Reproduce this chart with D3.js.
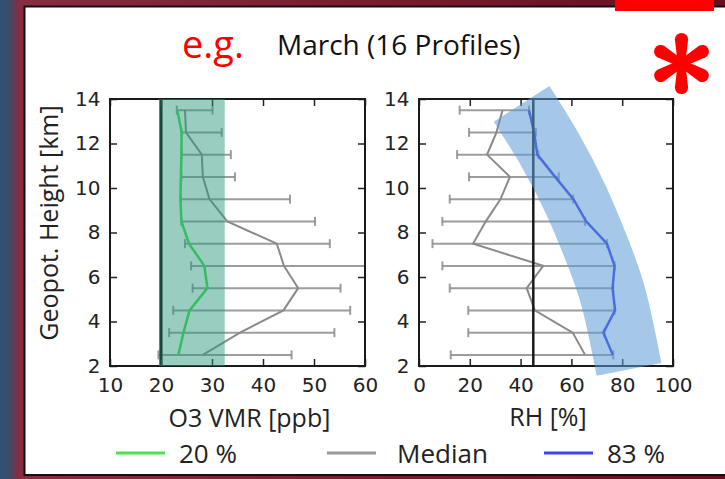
<!DOCTYPE html>
<html>
<head>
<meta charset="utf-8">
<script src="https://cdn.jsdelivr.net/npm/d3@7/dist/d3.min.js"></script>
<style>
  html, body { margin: 0; padding: 0; background: #fff; }
  svg { display: block; }
</style>
</head>
<body>
<svg id="chart" width="725" height="479"></svg>
<script>
// Heights of the profile levels [km]
const levels = [2.5, 3.5, 4.5, 5.5, 6.5, 7.5, 8.5, 9.5, 10.5, 11.5, 12.5, 13.5];

// Ozone volume mixing ratio [ppb]
const o3Low    = [19.5, 21.6, 22.4, 26.2, 25.9, 24.7, 24.0, 23.9, 24.0, 24.0, 24.0, 23.1];
const o3High   = [45.6, 54.0, 57.1, 55.2, 60.0, 53.1, 50.2, 45.3, 34.5, 33.7, 31.9, 30.1];
const o3Median = [28.2, 35.5, 44.0, 46.9, 44.1, 42.7, 33.0, 29.5, 28.2, 28.0, 24.9, 24.7];
const o3P20    = [23.4, 24.4, 25.6, 29.1, 28.5, 25.5, 24.0, 23.8, 23.9, 24.0, 24.05, 23.2];

// Relative humidity [%]
const rhLow    = [12.5, 19.4, 19.4, 12.1, 9.2, 5.3, 9.2, 12.1, 19.7, 15.0, 19.7, 16.0];
const rhHigh   = [76.5, 73.0, 77.0, 76.5, 77.0, 74.0, 65.4, 60.7, 55.0, 47.0, 46.0, 43.3];
const rhMedian = [65.4, 60.5, 45.6, 42.4, 48.9, 21.3, 26.3, 32.1, 35.8, 26.8, 30.5, 32.9];
const rhP83    = [76.3, 72.6, 77.2, 76.2, 77.0, 74.0, 65.8, 60.8, 53.6, 46.6, 45.3, 43.3];

// Reference values and highlighted ranges
const o3Threshold = 20;
const o3Range = [19.6, 32.5];
const rhThreshold = 45;
// centre line of the humid band (RH %, km)
const rhBandCentre = [[40.4, 13.78], [51.6, 11.71], [61.8, 9.46], [70.1, 7.21], [76.8, 4.97], [82.7, 1.85]];

// Axis ticks
const o3Ticks = [10, 20, 30, 40, 50, 60];
const rhTicks = [0, 20, 40, 60, 80, 100];
const heightTicks = [2, 4, 6, 8, 10, 12, 14];

// Text
const titleText = "March (16 Profiles)";
const exampleText = "e.g.";
const yLabel = "Geopot. Height [km]";
const o3Label = "O3 VMR [ppb]";
const rhLabel = "RH [%]";
const legendItems = [
  { label: "20 %", color: "#4fe04f" },
  { label: "Median", color: "#9a9a9a" },
  { label: "83 %", color: "#3f3ff5" }
];

const svg = d3.select("#chart");
const defs = svg.append("defs");

// slide background
const bg = defs.append("linearGradient").attr("id", "bgGrad");
bg.append("stop").attr("offset", "0%").attr("stop-color", "#2d5274");
bg.append("stop").attr("offset", "1.2%").attr("stop-color", "#3a4c6c");
bg.append("stop").attr("offset", "2.6%").attr("stop-color", "#872c41");
bg.append("stop").attr("offset", "50%").attr("stop-color", "#7a1c2e");
bg.append("stop").attr("offset", "100%").attr("stop-color", "#680e1e");
svg.append("rect").attr("width", 725).attr("height", 479).attr("fill", "url(#bgGrad)");
svg.append("rect").attr("x", 24.5).attr("y", 6.5).attr("width", 720).attr("height", 468.5)
  .attr("fill", "#fff").attr("stroke", "#111").attr("stroke-width", 2);

// red marker on top edge
svg.append("rect").attr("x", 615).attr("y", 0).attr("width", 99).attr("height", 11).attr("fill", "#ff0000");

// title
svg.append("text").attr("x", 182).attr("y", 58).attr("font-family", "Open Sans").attr("font-size", 38)
  .attr("fill", "#ff0000").text(exampleText);
svg.append("text").attr("x", 277).attr("y", 55).attr("font-family", "Open Sans").attr("font-size", 28)
  .attr("fill", "#111").text(titleText);

// red asterisk
const star = svg.append("g").attr("transform", "translate(681.5,63.5)");
for (let i = 0; i < 6; i++) {
  star.append("path")
    .attr("d", "M-3.8,0 L-6.6,-24 A6.6,6.6 0 0 1 6.6,-24 L3.8,0 Z")
    .attr("fill", "#ff0000")
    .attr("transform", `rotate(${i * 60})`);
}
star.append("circle").attr("r", 5.5).attr("fill", "#ff0000");

const y = d3.scaleLinear().domain([2, 14]).range([366, 99]);
const xO3 = d3.scaleLinear().domain([10, 60]).range([110, 365]);
const xRH = d3.scaleLinear().domain([0, 100]).range([419, 673]);

const tickFont = "DejaVu Sans";

function drawPanel(x, low, high, median, pct, pctColor) {
  const g = svg.append("g");
  // error bars
  const bars = g.append("g").attr("stroke", "#8c8c8c").attr("stroke-width", 2).attr("stroke-opacity", 0.85);
  levels.forEach((lv, i) => {
    bars.append("line").attr("x1", x(low[i])).attr("x2", x(high[i])).attr("y1", y(lv)).attr("y2", y(lv));
    bars.append("line").attr("x1", x(low[i])).attr("x2", x(low[i])).attr("y1", y(lv) - 4.5).attr("y2", y(lv) + 4.5);
    bars.append("line").attr("x1", x(high[i])).attr("x2", x(high[i])).attr("y1", y(lv) - 4.5).attr("y2", y(lv) + 4.5);
  });
  const line = (vals) => d3.line().x((d, i) => x(vals[i])).y(d => y(d))(levels);
  g.append("path").attr("d", line(median)).attr("fill", "none").attr("stroke", "#8a8a8a").attr("stroke-width", 2);
  g.append("path").attr("d", line(pct)).attr("fill", "none").attr("stroke", pctColor).attr("stroke-width", 2.5);
  return g;
}

function drawAxes(x, xTicks) {
  const [x0, x1] = x.range();
  const bottom = svg.append("g").attr("transform", `translate(0,366)`)
    .call(d3.axisBottom(x).tickValues(xTicks).tickFormat(d3.format("d")).tickSizeInner(-7).tickSizeOuter(0).tickPadding(12));
  const top = svg.append("g").attr("transform", `translate(0,99)`)
    .call(d3.axisTop(x).tickValues(xTicks).tickFormat("").tickSizeInner(-7).tickSizeOuter(0));
  const left = svg.append("g").attr("transform", `translate(${x0},0)`)
    .call(d3.axisLeft(y).tickValues(heightTicks).tickFormat(d3.format("d")).tickSizeInner(-7).tickSizeOuter(0).tickPadding(9.5));
  const right = svg.append("g").attr("transform", `translate(${x1},0)`)
    .call(d3.axisRight(y).tickValues(heightTicks).tickFormat("").tickSizeInner(-7).tickSizeOuter(0));
  [bottom, top, left, right].forEach(a => {
    a.select(".domain").remove();
    a.selectAll(".tick line").attr("stroke", "#222").attr("stroke-width", 1.5);
    a.selectAll(".tick text").attr("font-family", tickFont).attr("font-size", 20).attr("fill", "#222");
  });
  svg.append("rect").attr("x", x0).attr("y", 99).attr("width", x1 - x0).attr("height", 267)
    .attr("fill", "none").attr("stroke", "#1a1a1a").attr("stroke-width", 2);
}

// ozone panel
drawPanel(xO3, o3Low, o3High, o3Median, o3P20, "#40e050");
svg.append("line").attr("x1", xO3(o3Threshold)).attr("x2", xO3(o3Threshold)).attr("y1", y(14)).attr("y2", y(2))
  .attr("stroke", "#000").attr("stroke-width", 3);
drawAxes(xO3, o3Ticks);
svg.append("rect").attr("x", xO3(o3Range[0])).attr("y", y(14))
  .attr("width", xO3(o3Range[1]) - xO3(o3Range[0])).attr("height", y(2) - y(14))
  .attr("fill", "#27977b").attr("fill-opacity", 0.48);

// humidity panel
drawPanel(xRH, rhLow, rhHigh, rhMedian, rhP83, "#3535ee");
svg.append("line").attr("x1", xRH(rhThreshold)).attr("x2", xRH(rhThreshold)).attr("y1", y(14)).attr("y2", y(2))
  .attr("stroke", "#1a1a1a").attr("stroke-width", 2.5);
drawAxes(xRH, rhTicks);
svg.append("path")
  .attr("d", d3.line().x(d => xRH(d[0])).y(d => y(d[1])).curve(d3.curveNatural)(rhBandCentre))
  .attr("fill", "none").attr("stroke", "#5b9bd5").attr("stroke-opacity", 0.55)
  .attr("stroke-width", 66).attr("stroke-linecap", "butt");

// axis titles
svg.append("text").attr("transform", "translate(58,223) rotate(-90)").attr("text-anchor", "middle")
  .attr("font-family", "Open Sans").attr("font-size", 25).attr("fill", "#222").text(yLabel);
svg.append("text").attr("x", 249.5).attr("y", 427).attr("text-anchor", "middle")
  .attr("font-family", "Open Sans").attr("font-size", 25).attr("fill", "#222").text(o3Label);
svg.append("text").attr("x", 548).attr("y", 426).attr("text-anchor", "middle")
  .attr("font-family", "Open Sans").attr("font-size", 25).attr("fill", "#222").text(rhLabel);

// legend
const legendX = [116, 327, 544];
legendItems.forEach((item, i) => {
  const lx = legendX[i];
  svg.append("line").attr("x1", lx).attr("x2", lx + 49).attr("y1", 453).attr("y2", 453)
    .attr("stroke", item.color).attr("stroke-width", 3);
  svg.append("text").attr("x", lx + 63 + (i === 1 ? 7 : 0)).attr("y", 463)
    .attr("font-family", "Open Sans").attr("font-size", 26).attr("fill", "#222").text(item.label);
});
</script>
</body>
</html>
